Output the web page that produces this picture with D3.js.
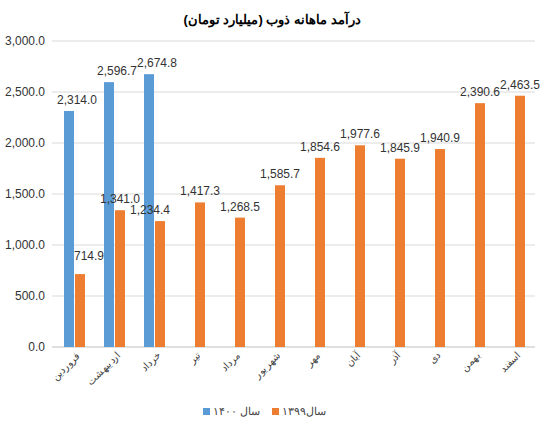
<!DOCTYPE html><html><head><meta charset="utf-8"><script src="https://cdn.jsdelivr.net/npm/d3@7"></script>
<style>body{margin:0;background:#fff}text{font-family:Arial,"Liberation Sans",sans-serif}</style></head><body><svg width="545" height="441"></svg><script>
const months=["فروردین","اردیبهشت","خرداد","تیر","مرداد","شهریور","مهر","آبان","آذر","دی","بهمن","اسفند"];
const s1400=[2314.0,2596.7,2674.8,null,null,null,null,null,null,null,null,null];
const s1399=[714.9,1341.0,1234.4,1417.3,1268.5,1585.7,1854.6,1977.6,1845.9,1940.9,2390.6,2463.5];
const ticks=[0,500,1000,1500,2000,2500,3000];
const svg=d3.select("svg");
const x=d3.scaleBand().domain(months).range([55,535]);
const y=d3.scaleLinear().domain([0,3000]).range([347,41]);
const fmt=d3.format(",.1f");
svg.append("text").attr("x",272).attr("y",24).attr("text-anchor","middle").attr("font-weight","bold").attr("font-size",13).text("درآمد ماهانه ذوب (میلیارد تومان)");
svg.selectAll(".g").data(ticks).join("line").attr("x1",52).attr("x2",535).attr("y1",d=>y(d)).attr("y2",d=>y(d)).attr("stroke",d=>d?"#d9d9d9":"#bfbfbf");
svg.selectAll(".yt").data(ticks).join("text").attr("x",45).attr("y",d=>y(d)+4).attr("text-anchor","end").attr("font-size",12).attr("fill","#333").text(d=>fmt(d));
const bw=10;
const bars=svg.append("g"), labels=svg.append("g");
months.forEach((m,i)=>{
 const cx=x(m)+x.bandwidth()/2;
 if(s1400[i]!=null){
  bars.append("rect").attr("x",cx-bw-1).attr("width",bw).attr("y",y(s1400[i])).attr("height",347-y(s1400[i])).attr("fill","#5b9bd5");
  labels.append("text").attr("x",cx+2).attr("y",y(s1400[i])-7).attr("text-anchor","middle").attr("font-size",12).attr("fill","#333").text(fmt(s1400[i]));
 }
 bars.append("rect").attr("x",cx).attr("width",bw).attr("y",y(s1399[i])).attr("height",347-y(s1399[i])).attr("fill","#ed7d31");
 let lx=cx+5, ly=y(s1399[i])-7;
 if(i==0){lx=cx+14;ly=y(s1399[i])-14;}
 if(i==2){lx=cx-5;}
 labels.append("text").attr("x",lx).attr("y",ly).attr("text-anchor","middle").attr("font-size",12).attr("fill","#333").text(fmt(s1399[i]));
 labels.append("text").attr("transform",`translate(${cx+6},356) rotate(-45)`).attr("text-anchor","end").attr("font-size",10).attr("fill","#444").text(m);
});
const lg=svg.append("g");
lg.append("rect").attr("x",203).attr("y",408).attr("width",7).attr("height",7).attr("fill","#5b9bd5");
lg.append("text").attr("x",213).attr("y",415).attr("font-size",11).attr("fill","#444").text("سال ۱۴۰۰");
lg.append("rect").attr("x",272).attr("y",408).attr("width",7).attr("height",7).attr("fill","#ed7d31");
lg.append("text").attr("x",282).attr("y",415).attr("font-size",11).attr("fill","#444").text("سال۱۳۹۹");
</script></body></html>
